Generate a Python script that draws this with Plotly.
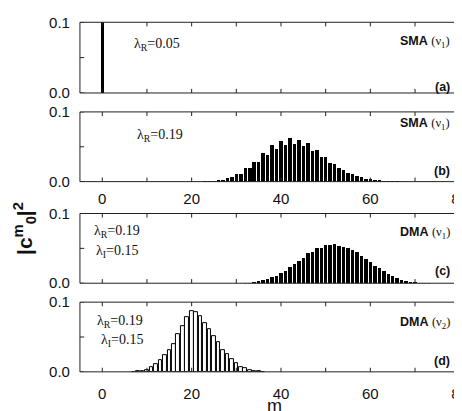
import plotly.graph_objects as go

# ---- data ----
m_a = [0]
v_a = [1.0]

m_b = list(range(23, 67))
v_b = [0.0003, 0.0005, 0.001, 0.002, 0.0025, 0.0057, 0.0065, 0.011, 0.011, 0.019,
       0.019, 0.029, 0.029, 0.041, 0.0386, 0.052, 0.047, 0.059, 0.053, 0.062,
       0.054, 0.060, 0.051, 0.055, 0.044, 0.046, 0.036, 0.036, 0.027, 0.026,
       0.019, 0.017, 0.012, 0.011, 0.0076, 0.0067, 0.0043, 0.004, 0.0024, 0.002,
       0.001, 0.001, 0.0005, 0.0003]

m_c = list(range(32, 74))
v_c = [0.0005, 0.001, 0.0019, 0.0033, 0.0048, 0.0071, 0.009, 0.0114, 0.0152, 0.018,
       0.0238, 0.0276, 0.033, 0.0367, 0.0438, 0.045, 0.051, 0.051, 0.056, 0.055,
       0.057, 0.054, 0.053, 0.051, 0.048, 0.045, 0.040, 0.036, 0.031, 0.026,
       0.022, 0.0176, 0.014, 0.011, 0.008, 0.0057, 0.0043, 0.0029, 0.0019, 0.001,
       0.0005, 0.0003]

m_d = list(range(7, 37))
v_d = [0.0003, 0.0006, 0.001, 0.003, 0.007, 0.011, 0.017, 0.024, 0.031, 0.040,
       0.054, 0.066, 0.079, 0.087, 0.086, 0.080, 0.070, 0.061, 0.051, 0.042,
       0.031, 0.025, 0.018, 0.012, 0.007, 0.005, 0.003, 0.0014, 0.0007, 0.0003]

x_ticks = [0, 10, 20, 30, 40, 50, 60, 70, 80]
x_ticktext = ["0", " ", "20", " ", "40", " ", "60", " ", "80"]
y_ticks = [0, 0.05, 0.1]
y_ticktext = ["0.0", " ", "0.1"]

lam_labels = [["λ<sub>R</sub>=0.05"], ["λ<sub>R</sub>=0.19"],
              ["λ<sub>R</sub>=0.19", "λ<sub>I</sub>=0.15"],
              ["λ<sub>R</sub>=0.19", "λ<sub>I</sub>=0.15"]]
model_labels = ["SMA", "SMA", "DMA", "DMA"]
nu_labels = ["1", "1", "1", "2"]
panel_labels = ["(a)", "(b)", "(c)", "(d)"]

# ---- layout geometry ----
# The page (figure + 8px body margin) is shrunk to fit the window, so map
# reference pixel positions back into figure coordinates.
W, H = 462, 411
OFF = 8
SX = W / (W + 2 * OFF)
SY = H / (H + 2 * OFF)
def fx(px): return (px / SX - OFF) / W
def fy(py): return 1 - (py / SY - OFF) / H

panels = [(13, 84), (103, 173), (205, 275), (294, 364)]
xdom = [fx(78.5), fx(452)]
frame_col = "#222"
TICK_PX = 4.3

fig = go.Figure()

series = [(m_a, v_a, "black", 0.75), (m_b, v_b, "black", 0.78),
          (m_c, v_c, "black", 0.78), (m_d, v_d, "white", 0.82)]

for i, (mm, vv, col, w) in enumerate(series):
    n = "" if i == 0 else str(i + 1)
    fig.add_trace(go.Bar(x=mm, y=vv, width=w, marker=dict(color=col,
                  line=dict(color="black", width=1 if col == "white" else 0)),
                  xaxis="x" + n, yaxis="y" + n, showlegend=False))

tf = dict(family="Liberation Sans, Arial", size=15, color="#111")
x_standoff = [6, 6, 6, 11]

shapes = []
for i, (top, bot) in enumerate(panels):
    n = "" if i == 0 else str(i + 1)
    show_x = i in (1, 3)
    fig.update_layout({
        "xaxis" + n: dict(domain=xdom, range=[-5, 80], showline=False,
                          ticks="inside", ticklen=4, tickcolor="rgba(0,0,0,0)",
                          showgrid=False, zeroline=False,
                          tickvals=x_ticks, ticktext=x_ticktext, showticklabels=show_x,
                          anchor="y" + n, tickfont=tf, ticklabelstandoff=x_standoff[i],
                          ticklabeloverflow="allow"),
        "yaxis" + n: dict(domain=[fy(bot), fy(top)], range=[0, 0.1], showline=False,
                          ticks="inside", ticklen=4, tickcolor="rgba(0,0,0,0)",
                          showgrid=False, zeroline=False, tickvals=y_ticks,
                          ticktext=y_ticktext, anchor="x" + n, tickfont=tf,
                          ticklabelstandoff=9),
    })
    shapes.append(dict(type="rect", xref="x" + n + " domain", yref="y" + n + " domain",
                       x0=0, x1=1, y0=0, y1=1, line=dict(color=frame_col, width=1)))
    ty = TICK_PX / ((bot - top) / SY)
    tx = TICK_PX / ((452 - 78.5) / SX)
    for v in x_ticks:
        for y0, y1 in ((0, ty), (1 - ty, 1)):
            shapes.append(dict(type="line", xref="x" + n, yref="y" + n + " domain",
                               x0=v, x1=v, y0=y0, y1=y1,
                               line=dict(color=frame_col, width=1)))
    for v in y_ticks:
        for x0, x1 in ((0, tx), (1 - tx, 1)):
            shapes.append(dict(type="line", xref="x" + n + " domain", yref="y" + n,
                               x0=x0, x1=x1, y0=v, y1=v,
                               line=dict(color=frame_col, width=1)))

ann = []
lam_pos = [[(130, 35)], [(133, 127)], [(90, 223), (92, 243)], [(93, 313), (97, 333)]]
for labs, poss in zip(lam_labels, lam_pos):
    for t, (px, py) in zip(labs, poss):
        ann.append(dict(text=t, x=fx(px), y=fy(py), xref="paper", yref="paper",
                        xanchor="left", yanchor="middle", showarrow=False,
                        font=dict(family="Liberation Serif, Times New Roman", size=14, color="#111")))

model_y = [33, 115, 225, 315]
panel_y = [78, 162, 263, 353]
for mlab, nu, py in zip(model_labels, nu_labels, model_y):
    ann.append(dict(text="<b>" + mlab + "</b> <span style='font-family:Liberation Serif'>(ν<sub>" + nu + "</sub>)</span>",
                    x=fx(444), y=fy(py), xref="paper", yref="paper",
                    xanchor="right", yanchor="middle", showarrow=False,
                    font=dict(family="Liberation Sans, Arial", size=12.5, color="#111")))
for plab, py in zip(panel_labels, panel_y):
    ann.append(dict(text="<b>" + plab + "</b>", x=fx(444), y=fy(py), xref="paper", yref="paper",
                    xanchor="right", yanchor="middle", showarrow=False,
                    font=dict(family="Liberation Sans, Arial", size=12.5, color="#111")))

ann.append(dict(text="m", x=fx(270), y=fy(398), xref="paper", yref="paper",
                xanchor="center", yanchor="middle", showarrow=False,
                font=dict(family="Liberation Sans, Arial", size=18, color="#111")))
ann.append(dict(text="<b>|c<sup>m</sup><sub>0</sub>|<sup>2</sup></b>", x=fx(24), y=fy(220),
                xref="paper", yref="paper", xanchor="center", yanchor="middle",
                textangle=-90, showarrow=False,
                font=dict(family="Liberation Sans, Arial", size=21, color="#111")))

fig.update_layout(width=W, height=H, margin=dict(l=0, r=0, t=0, b=0),
                  paper_bgcolor="white", plot_bgcolor="white", bargap=0,
                  annotations=ann, shapes=shapes)

fig.write_html("out.html")
